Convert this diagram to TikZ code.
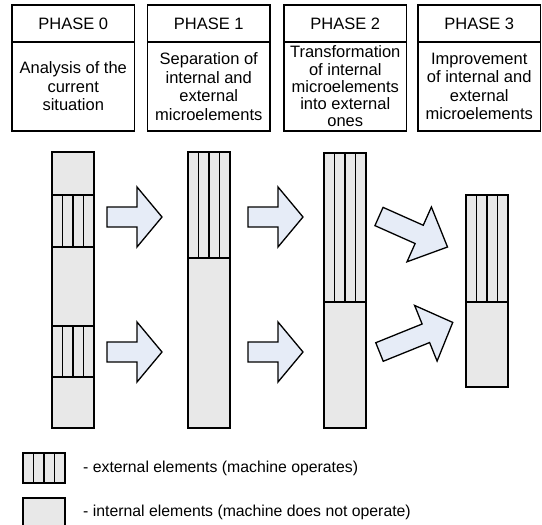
\documentclass[tikz,border=0pt]{standalone}
\usepackage{fontspec}
\setmainfont{Liberation Sans}
\usetikzlibrary{calc}
\newcommand{\extseg}[4]{% name, x, ytop, ybottom
  \node[intbox,minimum height={#4-#3}] (#1) at (#2,#3) {};
  \foreach \k in {1,2,3} {\draw[stripeline] ($(#1.north west)+(10.5*\k,0)$) -- ($(#1.south west)+(10.5*\k,0)$);}
}
\newcommand{\intseg}[4]{%
  \node[intbox,minimum height={#4-#3}] (#1) at (#2,#3) {};
}
\definecolor{arrowfill}{HTML}{E6ECF7}
\definecolor{barfill}{HTML}{E8E8E8}
\begin{document}
\begin{tikzpicture}[x=1pt,y=-1pt,
  hdr/.style={draw=black,line width=1.4pt,minimum width=122.5pt,minimum height=37pt,inner sep=0pt,outer sep=0pt,font=\fontsize{16.5}{18}\selectfont,anchor=north west},
  body/.style={draw=black,line width=1.4pt,minimum width=122.5pt,minimum height=89pt,inner sep=0pt,outer sep=0pt,font=\fontsize{16.5}{18.6}\selectfont,align=center,anchor=north west},
  intbox/.style={draw=black,line width=1.3pt,fill=barfill,inner sep=0pt,outer sep=0pt,anchor=north west,minimum width=42pt},
  stripeline/.style={draw=black,line width=1.6pt},
  arrowstyle/.style={draw=black,line width=1.3pt,fill=arrowfill,line join=miter},
  legtext/.style={font=\fontsize{15.8}{18}\selectfont,anchor=west,inner sep=0pt},
  pics/blockarrow/.style 2 args={code={
    \draw[arrowstyle] (0,-10) -- (#1,-10) -- (#1,-30) -- (#1+#2,0) -- (#1,30) -- (#1,10) -- (0,10) -- cycle;}}
]
\useasboundingbox (0,0) rectangle (542,525);
% header boxes
\node[hdr] (h0) at (12,5) {PHASE 0};
\node[hdr] (h1) at (147.5,5) {PHASE 1};
\node[hdr] (h2) at (284,5) {PHASE 2};
\node[hdr] (h3) at (418,5) {PHASE 3};
\node[body] (b0) at (12,42) {Analysis of the\\current\\situation};
\node[body] (b1) at (147.5,42) {Separation of\\internal and\\external\\microelements};
\node[body,font=\fontsize{16.5}{17.3}\selectfont] (b2) at (284,42) {Transformation\\of internal\\microelements\\into external\\ones};
\node[body] (b3) at (418,42) {Improvement\\of internal and\\external\\microelements};
% bar 1
\intseg{a1}{52}{152}{195}
\extseg{a2}{52}{195}{247}
\intseg{a3}{52}{247}{326}
\extseg{a4}{52}{326}{377}
\intseg{a5}{52}{377}{428}
% bar 2
\extseg{c1}{188}{152}{258}
\intseg{c2}{188}{258}{428}
% bar 3
\extseg{d1}{324}{153}{302}
\intseg{d2}{324}{302}{428}
% bar 4
\extseg{e1}{466}{195}{302}
\intseg{e2}{466}{302}{387}
% block arrows
\pic at (107,217) {blockarrow={30}{25}};
\pic at (107,352) {blockarrow={30}{25}};
\pic at (248,217) {blockarrow={30}{25}};
\pic at (248,352) {blockarrow={30}{25}};
\pic[rotate=-24] at (379,216.5) {blockarrow={44}{31}};
\pic[rotate=22] at (379.5,352) {blockarrow={50}{29}};
% legend
\extseg{l1}{23}{453}{483}
\intseg{l2}{23}{498}{528}
\node[legtext] (t1) at (83,468) {- external elements (machine operates)};
\node[legtext] (t2) at (83,512) {- internal elements (machine does not operate)};
\end{tikzpicture}
\end{document}
